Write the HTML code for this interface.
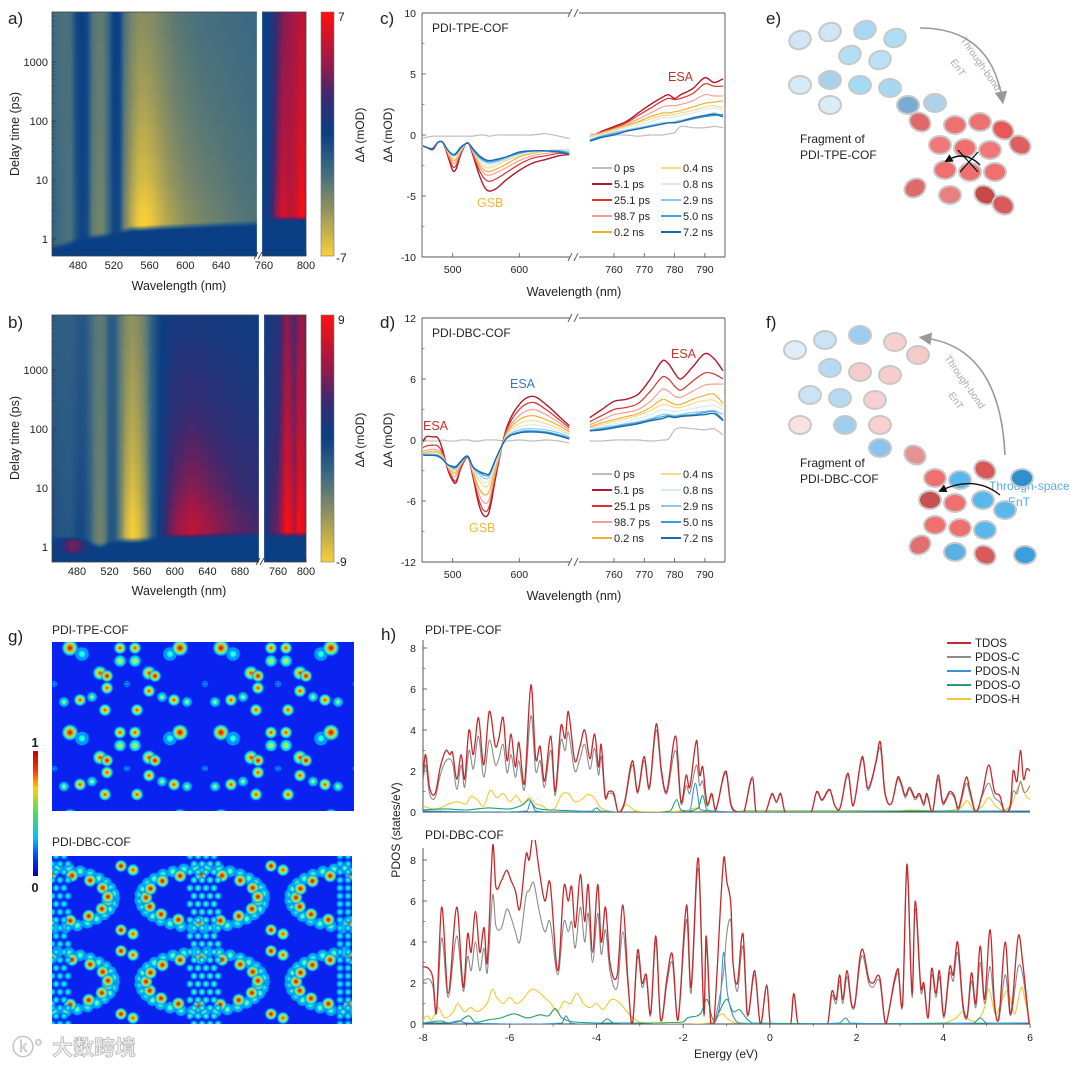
<!DOCTYPE html>
<html><head><meta charset="utf-8">
<style>
body{margin:0;background:#fff;}
#root{position:relative;width:1080px;height:1065px;overflow:hidden;background:#fff;font-family:"Liberation Sans",Arial,sans-serif;}
svg{position:absolute;left:0;top:0;}
canvas{position:absolute;}
.t{font-family:"Liberation Sans",Arial,sans-serif;fill:#222;}
</style></head>
<body>
<div id="root">
<canvas id="hmA" style="left:52px;top:12px" width="254" height="244"></canvas>
<canvas id="hmB" style="left:52px;top:315px" width="254" height="247"></canvas>
<canvas id="gTop" style="left:52px;top:642px" width="302" height="169"></canvas>
<canvas id="gBot" style="left:52px;top:856px" width="300" height="168"></canvas>
<svg id="main" width="1080" height="1065" xmlns="http://www.w3.org/2000/svg">
 <defs>
  <linearGradient id="cbarA" x1="0" y1="0" x2="0" y2="1">
   <stop offset="0" stop-color="#ff1010"/><stop offset="0.2" stop-color="#a01848"/><stop offset="0.35" stop-color="#3a2a70"/>
   <stop offset="0.5" stop-color="#0a3f85"/><stop offset="0.65" stop-color="#3d6a82"/><stop offset="0.8" stop-color="#8c9060"/><stop offset="1" stop-color="#f8d038"/>
  </linearGradient>
  <linearGradient id="jet" x1="0" y1="0" x2="0" y2="1">
   <stop offset="0" stop-color="#c00000"/><stop offset="0.15" stop-color="#ff3000"/><stop offset="0.3" stop-color="#ffd000"/>
   <stop offset="0.5" stop-color="#40e060"/><stop offset="0.7" stop-color="#00c0ff"/><stop offset="0.85" stop-color="#0040ff"/><stop offset="1" stop-color="#0000b0"/>
  </linearGradient>
  <marker id="arrG" markerWidth="8" markerHeight="8" refX="4" refY="4" orient="auto"><path d="M0,0 L8,4 L0,8 z" fill="#999"/></marker>
  <marker id="arrK" markerWidth="6" markerHeight="6" refX="3" refY="3" orient="auto"><path d="M0,0 L6,3 L0,6 z" fill="#111"/></marker>
  <clipPath id="clipHT"><rect x="423" y="600" width="608" height="212"/></clipPath>
  <clipPath id="clipHB"><rect x="423" y="840" width="608" height="184"/></clipPath>
  <clipPath id="clipC"><rect x="423" y="13" width="302" height="244"/></clipPath>
  <clipPath id="clipD"><rect x="423" y="318" width="302" height="244"/></clipPath>
 </defs>

 <text class="t" x="8" y="24" font-size="17">a)</text>
 <text class="t" x="8" y="328" font-size="17">b)</text>
 <text class="t" x="380" y="24" font-size="17">c)</text>
 <text class="t" x="380" y="328" font-size="17">d)</text>
 <text class="t" x="766" y="24" font-size="17">e)</text>
 <text class="t" x="766" y="328" font-size="17">f)</text>
 <text class="t" x="8" y="642" font-size="17">g)</text>
 <text class="t" x="381" y="640" font-size="17">h)</text>

 <rect x="52" y="12" width="254" height="244" fill="none" stroke="#444" stroke-width="0.8"/>
 <rect x="257" y="11" width="5" height="247" fill="#fff"/>
 <rect x="52" y="315" width="254" height="247" fill="none" stroke="#444" stroke-width="0.8"/>
 <rect x="259" y="314" width="5" height="250" fill="#fff"/>
 <rect x="321" y="12" width="13" height="244" fill="url(#cbarA)" stroke="#777" stroke-width="0.6"/>
 <rect x="321" y="315" width="13" height="247" fill="url(#cbarA)" stroke="#777" stroke-width="0.6"/>
 <text class="t" x="338" y="21" font-size="12">7</text>
 <text class="t" x="336" y="262" font-size="12">-7</text>
 <text class="t" x="338" y="324" font-size="12">9</text>
 <text class="t" x="336" y="566" font-size="12">-9</text>
 <text class="t" font-size="12" transform="translate(364,135) rotate(-90)" text-anchor="middle">ΔA (mOD)</text>
 <text class="t" font-size="12" transform="translate(364,440) rotate(-90)" text-anchor="middle">ΔA (mOD)</text>
 <text class="t" font-size="12.5" transform="translate(19,134) rotate(-90)" text-anchor="middle">Delay time (ps)</text>
 <text class="t" font-size="12.5" transform="translate(19,438) rotate(-90)" text-anchor="middle">Delay time (ps)</text>
 <text class="t" x="179" y="290" font-size="12.5" text-anchor="middle">Wavelength (nm)</text>
 <text class="t" x="179" y="595" font-size="12.5" text-anchor="middle">Wavelength (nm)</text>

 <text class="t" font-size="12" transform="translate(392,135) rotate(-90)" text-anchor="middle">ΔA (mOD)</text>
 <text class="t" font-size="12" transform="translate(392,440) rotate(-90)" text-anchor="middle">ΔA (mOD)</text>
 <text class="t" x="574" y="296" font-size="12.5" text-anchor="middle">Wavelength (nm)</text>
 <text class="t" x="574" y="600" font-size="12.5" text-anchor="middle">Wavelength (nm)</text>
 <text class="t" x="432" y="32" font-size="12">PDI-TPE-COF</text>
 <text class="t" x="432" y="337" font-size="12">PDI-DBC-COF</text>
 <text x="668" y="81" font-size="12.5" fill="#c8302c">ESA</text>
 <text x="477" y="207" font-size="12.5" fill="#f0b840">GSB</text>
 <text x="423" y="430" font-size="12.5" fill="#c8302c">ESA</text>
 <text x="510" y="388" font-size="12.5" fill="#3a78c0">ESA</text>
 <text x="469" y="532" font-size="12.5" fill="#f0b840">GSB</text>
 <text x="671" y="358" font-size="12.5" fill="#c8302c">ESA</text>

 <text class="t" x="800" y="143" font-size="12">Fragment of</text>
 <text class="t" x="800" y="159" font-size="12">PDI-TPE-COF</text>
 <text class="t" x="800" y="467" font-size="12">Fragment of</text>
 <text class="t" x="800" y="483" font-size="12">PDI-DBC-COF</text>
 <text x="960" y="40" font-size="10" fill="#aaa" transform="rotate(55 960 40)">Through-bond</text>
 <text x="950" y="62" font-size="10" fill="#aaa" transform="rotate(55 950 62)">EnT</text>
 <text x="944" y="358" font-size="10" fill="#aaa" transform="rotate(55 944 358)">Through-bond</text>
 <text x="948" y="395" font-size="10" fill="#aaa" transform="rotate(55 948 395)">EnT</text>
 <text x="989" y="490" font-size="12" fill="#5aaae0">Through-space</text>
 <text x="1008" y="506" font-size="12" fill="#5aaae0">EnT</text>

 <text class="t" x="52" y="634" font-size="12">PDI-TPE-COF</text>
 <text class="t" x="52" y="846" font-size="12">PDI-DBC-COF</text>
 <rect x="33" y="751" width="5" height="125" fill="url(#jet)"/>
 <text x="35" y="747" font-size="13" font-weight="bold" fill="#222" text-anchor="middle">1</text>
 <text x="35" y="892" font-size="13" font-weight="bold" fill="#222" text-anchor="middle">0</text>

 <text class="t" x="425" y="634" font-size="12">PDI-TPE-COF</text>
 <text class="t" x="425" y="839" font-size="12">PDI-DBC-COF</text>
 <text class="t" font-size="12" transform="translate(400,830) rotate(-90)" text-anchor="middle">PDOS (states/eV)</text>
 <text class="t" x="726" y="1058" font-size="12" text-anchor="middle">Energy (eV)</text>

 <text x="12" y="1055" font-size="22" fill="#e6e6e6" stroke="#bbb" stroke-width="0.6">ⓚ°</text>
 <text x="52" y="1055" font-size="21" font-weight="bold" fill="#eee" stroke="#aaa" stroke-width="0.6" style="font-family:'Liberation Sans','Noto Sans CJK SC',sans-serif">大数跨境</text>
</svg>
</div>

<script>
// ================= DATA =================
const hmW = [449,456,464,472,478,484,490,496,502,508,514,520,526,532,540,548,556,564,572,580,590,600,620,640,660,680,700,740,750,760,766,772,778,784,790,796,800];
const aEarly = [-1.5,-2,-2.3,-2.5,-1,-0.2,-0.5,-3,-3.5,-3.5,-2,-0.3,-0.5,-3.5,-5.5,-6.8,-7,-6.5,-5.8,-5.2,-4.7,-4.2,-3.6,-3.2,-2.8,-2.6,-2.5,0,0,0,1,4,6,5,5.5,7,6];
const aLate  = [-2,-2.3,-2.5,-2.3,-0.5,0,-0.3,-2.5,-3,-3,-2,0,0,-2.5,-3.5,-4,-4,-3.8,-3.5,-3.2,-2.8,-2.6,-2.3,-2.2,-2.1,-2,-2,0,0,0,0.5,2,3.5,4,4.5,5,5];
const aOnset = [0.72,0.75,0.8,0.88,0.95,1.0,1.05,1.1,1.12,1.15,1.2,1.22,1.3,1.4,1.5,1.5,1.52,1.55,1.58,1.6,1.62,1.65,1.7,1.75,1.8,1.85,1.9,2,2,2.1,2.1,2.2,2.2,2.2,2.2,2.2,2.2];
const aPre = [0,0,0,0,0,0,0,0,0,0,0,0,0,0,0,0,0,0,0,0,0,0,0,0,0,0,0,0,0,0,0,0,0,0,0,0,0];
const bEarly = [-1,-1.2,-1.5,-1.5,-1,-0.5,-1,-2,-4,-4.5,-4,-1.5,-1.5,-4,-7.5,-9,-8,-6,-2,0,3,5,6.5,5.5,4.5,3.5,3,1,3,4,6,9,8,6,9,8,7];
const bLate  = [-2,-2,-2,-2,-1.8,-1.5,-1.5,-2.5,-3.5,-3.8,-3.5,-1.8,-1.8,-3.5,-5,-5.5,-5,-4,-2,-0.5,0.3,0.6,0.7,0.6,0.5,0.4,0.3,0.5,1,1.5,3,5,4,3,5,5,4];
const bOnset = [1.4,1.4,1.4,1.4,1.4,1.35,1.3,1.2,1.1,1.05,1.1,1.2,1.25,1.3,1.3,1.3,1.3,1.35,1.4,1.5,1.5,1.5,1.52,1.55,1.6,1.6,1.62,1.6,1.6,1.6,1.6,1.6,1.6,1.6,1.6,1.6,1.6];
const bPre = [0,0,2,4,4,3,1,0,0,0,0,0,0,0,0,0,0,0,0,0,0,0,0,0,0,0,0,0,0,0,0,0,0,0,0,0,0];
const mixT = [1,2,5,10,30,100,300,1000,3000,10000];
const mixA = [0,0,0.15,0.3,0.45,0.6,0.72,0.82,0.92,1];
const mixB = [0,0,0.15,0.3,0.45,0.6,0.72,0.82,0.92,1];
const hmXTicksA = [480,520,560,600,640];
const hmXTicksB = [480,520,560,600,640,680];
const hmXTicksR = [760,800];
const hmYTicks = [1,10,100,1000];

const wlL = [452,460,470,478,485,492,500,505,512,520,524,530,540,548,555,565,580,600,620,640,660,675];
const wlR = [752,756,760,764,768,772,776,778,780,782,786,790,793,796];
const seriesNames = ['0 ps','5.1 ps','25.1 ps','98.7 ps','0.2 ns','0.4 ns','0.8 ns','2.9 ns','5.0 ns','7.2 ns'];
const seriesColors = ['#bdbdbd','#b2182b','#d8322c','#f2a096','#f0b030','#f8d98a','#d6ecf4','#8ec6ea','#38a0dc','#1a68b0'];
const cL0=[-0.3,-0.2,-0.1,-0.1,-0.1,-0.1,-0.1,-0.1,-0.1,-0.1,-0.1,-0.1,0,0,-0.1,0,0,0,0,0.1,-0.1,-0.3];
const cL1=[-0.8,-1.0,-1.2,-0.6,-0.6,-1.6,-2.9,-2.8,-1.6,-0.7,-0.7,-1.6,-3.3,-4.3,-4.6,-4.4,-3.7,-2.9,-2.3,-2.0,-1.7,-1.6];
const cL2=[-0.8,-1.0,-1.1,-0.6,-0.6,-1.5,-2.6,-2.5,-1.5,-0.7,-0.7,-1.5,-2.9,-3.6,-3.8,-3.6,-3.1,-2.4,-1.9,-1.7,-1.5,-1.5];
const cL3=[-0.8,-1.0,-1.1,-0.6,-0.6,-1.4,-2.3,-2.2,-1.4,-0.7,-0.7,-1.4,-2.6,-3.2,-3.3,-3.1,-2.7,-2.1,-1.7,-1.5,-1.4,-1.4];
const cL4=[-0.8,-1.0,-1.1,-0.6,-0.6,-1.3,-2.1,-2.0,-1.3,-0.7,-0.7,-1.3,-2.4,-2.9,-3.0,-2.8,-2.4,-1.8,-1.5,-1.3,-1.2,-1.3];
const cL5=[-0.8,-1.0,-1.1,-0.6,-0.6,-1.3,-1.9,-1.9,-1.2,-0.7,-0.7,-1.2,-2.2,-2.6,-2.7,-2.5,-2.1,-1.7,-1.4,-1.3,-1.2,-1.2];
const cL6=[-0.8,-1.0,-1.1,-0.6,-0.6,-1.2,-1.8,-1.7,-1.2,-0.7,-0.7,-1.2,-2.0,-2.4,-2.5,-2.3,-2.0,-1.6,-1.4,-1.3,-1.2,-1.3];
const cL7=[-0.8,-1.0,-1.1,-0.6,-0.6,-1.2,-1.7,-1.6,-1.1,-0.7,-0.7,-1.2,-1.9,-2.2,-2.3,-2.2,-1.9,-1.5,-1.3,-1.3,-1.3,-1.4];
const cL8=[-0.8,-1.0,-1.1,-0.6,-0.6,-1.2,-1.6,-1.6,-1.1,-0.7,-0.7,-1.2,-1.8,-2.1,-2.2,-2.1,-1.8,-1.5,-1.3,-1.3,-1.3,-1.5];
const cL9=[-0.8,-1.0,-1.1,-0.6,-0.6,-1.2,-1.6,-1.5,-1.0,-0.7,-0.7,-1.1,-1.7,-2.0,-2.1,-2.0,-1.8,-1.4,-1.3,-1.3,-1.4,-1.6];
const cR0=[0.1,0,0,0,-0.1,0,0,0.1,0.2,0.7,0.6,0.6,0.7,0.6];
const cR1=[-0.2,0.3,0.7,1.1,1.8,2.5,3.1,3.3,3.0,3.3,3.8,4.7,4.3,4.6];
const cR2=[-0.1,0.2,0.6,1.0,1.6,2.2,2.8,3.0,2.9,3.0,3.4,4.2,4.0,4.0];
const cR3=[-0.1,0.2,0.5,0.9,1.3,1.8,2.3,2.4,2.4,2.5,2.8,3.3,3.2,3.2];
const cR4=[-0.1,0.2,0.5,0.8,1.1,1.5,1.8,1.8,1.9,2.0,2.3,2.6,2.7,2.8];
const cR5=[-0.1,0.1,0.4,0.7,1.0,1.3,1.6,1.6,1.7,1.8,2.0,2.3,2.4,2.2];
const cR6=[-0.2,0,0.3,0.6,0.8,1.1,1.4,1.4,1.5,1.6,1.8,2.1,2.2,2.0];
const cR7=[-0.4,-0.1,0.2,0.4,0.6,0.8,1.0,1.0,1.1,1.2,1.4,1.6,1.8,1.6];
const cR8=[-0.4,-0.1,0.1,0.3,0.5,0.7,0.9,1.0,1.0,1.1,1.3,1.5,1.6,1.7];
const cR9=[-0.5,-0.2,0.0,0.3,0.5,0.7,0.9,1.0,1.0,1.1,1.4,1.6,1.7,1.5];
const dL0=[-0.2,-0.1,-0.1,-0.1,0,-0.1,-0.1,-0.1,0,0,0,-0.1,-0.1,0,0,0,-0.1,0,-0.1,0,-0.1,-0.3];
const dL1=[-0.5,0.3,0.3,0.2,-1.0,-2.8,-4.0,-4.2,-2.8,-1.8,-1.8,-3.5,-6.5,-7.5,-7.0,-3.5,1.0,3.5,4.3,3.5,2.3,1.4];
const dL2=[-0.9,-0.6,-0.5,-0.6,-1.3,-2.7,-3.8,-4.0,-2.7,-1.8,-1.8,-3.4,-6.0,-7.0,-6.5,-3.2,0.8,3.0,3.7,3.0,2.0,1.2];
const dL3=[-1.2,-1.0,-0.9,-1.0,-1.5,-2.6,-3.5,-3.5,-2.5,-1.7,-1.7,-3.2,-5.4,-6.2,-5.8,-2.9,0.6,2.4,3.0,2.5,1.7,1.0];
const dL4=[-1.3,-1.2,-1.1,-1.2,-1.6,-2.5,-3.2,-3.2,-2.4,-1.7,-1.7,-3.0,-4.8,-5.4,-5.0,-2.6,0.5,2.0,2.4,2.0,1.4,0.8];
const dL5=[-1.3,-1.3,-1.2,-1.3,-1.7,-2.5,-3.0,-3.0,-2.3,-1.7,-1.7,-2.9,-4.0,-4.6,-4.3,-2.3,0.4,1.6,1.9,1.6,1.1,0.6];
const dL6=[-1.4,-1.4,-1.3,-1.4,-1.8,-2.5,-2.9,-2.9,-2.3,-1.7,-1.7,-2.8,-3.7,-4.2,-3.9,-2.1,0.3,1.3,1.5,1.3,0.9,0.5];
const dL7=[-1.4,-1.4,-1.4,-1.5,-1.8,-2.4,-2.8,-2.8,-2.2,-1.7,-1.7,-2.7,-3.4,-3.8,-3.6,-1.9,0.2,1.0,1.1,1.0,0.7,0.3];
const dL8=[-1.4,-1.5,-1.5,-1.5,-1.9,-2.4,-2.7,-2.7,-2.2,-1.7,-1.7,-2.6,-3.2,-3.5,-3.4,-1.8,0.1,0.8,0.9,0.8,0.5,0.2];
const dL9=[-1.4,-1.5,-1.5,-1.6,-1.9,-2.4,-2.6,-2.6,-2.1,-1.6,-1.7,-2.6,-3.1,-3.3,-3.3,-1.8,0.1,0.7,0.8,0.7,0.4,0.1];
const dR0=[-0.1,-0.1,0,0,0,-0.1,0,0.1,1.0,1.2,1.1,1.0,1.1,0.5];
const dR1=[2.2,3.0,3.8,4.0,4.5,6.0,7.8,7.5,6.6,6.0,7.2,8.5,8.0,6.8];
const dR2=[1.8,2.4,3.0,3.2,3.6,4.8,6.2,6.0,5.3,4.9,5.8,6.6,6.5,6.0];
const dR3=[1.5,2.0,2.5,2.7,3.0,3.8,5.0,4.8,4.3,4.2,4.8,5.4,5.5,5.5];
const dR4=[1.3,1.7,2.0,2.3,2.6,3.2,4.0,3.8,3.5,3.5,4.0,4.4,4.5,3.6];
const dR5=[1.2,1.5,1.8,2.1,2.4,2.9,3.5,3.4,3.2,3.2,3.6,3.9,3.9,3.3];
const dR6=[1.1,1.3,1.6,1.8,2.1,2.5,3.0,2.9,2.8,2.9,3.1,3.3,3.4,3.0];
const dR7=[1.0,1.2,1.4,1.6,1.8,2.1,2.5,2.5,2.4,2.5,2.7,2.8,2.9,2.5];
const dR8=[0.9,1.1,1.3,1.5,1.7,2.0,2.3,2.4,2.3,2.4,2.5,2.7,2.8,2.0];
const dR9=[0.9,1.0,1.2,1.4,1.6,1.9,2.1,2.3,2.2,2.3,2.4,2.5,2.6,1.9];
const cLeft=[cL0,cL1,cL2,cL3,cL4,cL5,cL6,cL7,cL8,cL9];
const cRight=[cR0,cR1,cR2,cR3,cR4,cR5,cR6,cR7,cR8,cR9];
const dLeft=[dL0,dL1,dL2,dL3,dL4,dL5,dL6,dL7,dL8,dL9];
const dRight=[dR0,dR1,dR2,dR3,dR4,dR5,dR6,dR7,dR8,dR9];
const cYTicks=[10,5,0,-5,-10];
const dYTicks=[12,6,0,-6,-12];
const specXTicksL=[500,600];
const specXTicksR=[760,770,780,790];

const tdosTop=[[-8,1.8],[-7.94,2.8],[-7.85,1.2],[-7.72,0.9],[-7.6,2.2],[-7.47,3.0],[-7.38,2.8],[-7.32,2.9],[-7.22,1.6],[-7.12,2.8],[-7.04,1.6],[-6.94,4.0],[-6.84,2.8],[-6.72,4.6],[-6.6,2.3],[-6.47,4.9],[-6.33,3.2],[-6.25,3.6],[-6.15,4.6],[-6.06,2.5],[-5.97,3.8],[-5.87,2.2],[-5.79,3.4],[-5.66,1.4],[-5.51,6.2],[-5.4,2.6],[-5.3,3.2],[-5.2,1.5],[-5.05,3.7],[-4.95,1.0],[-4.82,4.2],[-4.72,3.6],[-4.65,4.9],[-4.5,2.5],[-4.38,3.2],[-4.27,4.0],[-4.15,2.6],[-4.04,3.8],[-3.95,2.2],[-3.89,3.3],[-3.8,0.8],[-3.72,1.0],[-3.6,0.9],[-3.5,0],[-3.35,0.5],[-3.17,2.5],[-3.05,1.0],[-2.9,2.7],[-2.78,1.2],[-2.62,4.3],[-2.5,2.0],[-2.38,1.0],[-2.17,3.7],[-2.05,0.5],[-1.93,1.8],[-1.85,1.2],[-1.69,3.5],[-1.62,1.8],[-1.55,2.2],[-1.45,0.4],[-1.34,0.9],[-1.25,0.1],[-1.02,2.0],[-0.9,0.4],[-0.75,0],[-0.6,0],[-0.4,1.7],[-0.32,0],[-0.1,0],[0.05,0.9],[0.15,0.5],[0.25,0.9],[0.35,0],[0.95,0],[1.08,1.0],[1.2,0.6],[1.38,1.1],[1.5,0.3],[1.62,0.2],[1.8,1.9],[1.92,0.3],[2.13,2.7],[2.25,1.2],[2.35,1.6],[2.45,2.5],[2.55,3.4],[2.65,1.0],[2.8,0.4],[2.95,1.7],[3.03,1.4],[3.12,0.8],[3.22,1.2],[3.35,0.7],[3.45,0.9],[3.55,0.4],[3.62,0.9],[3.75,0],[3.88,1.8],[3.98,0.5],[4.05,0.6],[4.15,1.0],[4.25,0.8],[4.35,0.2],[4.53,1.7],[4.62,1.0],[4.75,0],[4.9,0.9],[5.05,2.3],[5.18,1.0],[5.3,0.8],[5.42,0],[5.55,0.4],[5.61,2.0],[5.7,1.5],[5.78,3.0],[5.85,1.6],[5.92,2.1],[6.0,2.0]];
const pdosCTop=[[-8,1.5],[-7.94,2.3],[-7.85,0.9],[-7.72,0.7],[-7.6,1.8],[-7.47,2.5],[-7.32,2.4],[-7.22,1.1],[-7.12,2.3],[-7.04,1.2],[-6.94,3.0],[-6.84,2.1],[-6.72,3.7],[-6.6,1.7],[-6.47,3.5],[-6.33,2.3],[-6.25,2.6],[-6.15,3.3],[-6.06,1.9],[-5.97,2.8],[-5.87,1.7],[-5.79,2.5],[-5.66,1.1],[-5.51,4.7],[-5.4,2.0],[-5.3,2.5],[-5.2,1.2],[-5.05,3.0],[-4.95,0.8],[-4.82,3.5],[-4.72,3.0],[-4.65,3.9],[-4.5,2.0],[-4.38,2.6],[-4.27,3.3],[-4.15,2.1],[-4.04,3.1],[-3.95,1.8],[-3.89,2.7],[-3.8,0.7],[-3.72,0.9],[-3.6,0.8],[-3.5,0],[-3.35,0.4],[-3.17,2.3],[-3.05,0.9],[-2.9,2.5],[-2.78,1.1],[-2.62,4.0],[-2.5,1.8],[-2.38,0.9],[-2.17,3.0],[-2.05,0.4],[-1.93,1.3],[-1.85,0.9],[-1.69,2.3],[-1.62,1.3],[-1.55,1.5],[-1.45,0.3],[-1.34,0.8],[-1.25,0.1],[-1.02,1.9],[-0.9,0.3],[-0.75,0],[-0.6,0],[-0.4,1.6],[-0.32,0],[-0.1,0],[0.05,0.85],[0.15,0.45],[0.25,0.85],[0.35,0],[0.95,0],[1.08,0.95],[1.2,0.55],[1.38,1.05],[1.5,0.3],[1.62,0.2],[1.8,1.8],[1.92,0.3],[2.13,2.6],[2.25,1.1],[2.35,1.5],[2.45,2.4],[2.55,3.1],[2.65,0.9],[2.8,0.4],[2.95,1.6],[3.03,1.3],[3.12,0.7],[3.22,1.1],[3.35,0.6],[3.45,0.8],[3.55,0.3],[3.62,0.8],[3.75,0],[3.88,1.6],[3.98,0.4],[4.05,0.5],[4.15,0.9],[4.25,0.7],[4.35,0.1],[4.53,1.4],[4.62,0.8],[4.75,0],[4.9,0.8],[5.05,1.4],[5.18,0.7],[5.3,0.5],[5.42,0],[5.55,0.2],[5.61,1.0],[5.7,0.9],[5.78,1.5],[5.85,1.0],[5.92,1.0],[6.0,1.3]];
const pdosHTop=[[-8,0.3],[-7.8,0.15],[-7.6,0.2],[-7.4,0.4],[-7.2,0.5],[-7.0,0.4],[-6.9,0.75],[-6.75,0.6],[-6.6,0.3],[-6.45,1.05],[-6.3,0.7],[-6.15,0.9],[-6.0,0.5],[-5.85,0.8],[-5.7,0.4],[-5.55,0.7],[-5.4,0.4],[-5.25,0.3],[-5.1,0.1],[-4.95,0.2],[-4.8,0.85],[-4.65,0.9],[-4.5,0.5],[-4.35,0.6],[-4.2,0.85],[-4.05,0.7],[-3.9,0.2],[-3.7,0.05],[-3.5,0],[-3.3,0.35],[-3.1,0.05],[-2,0.05],[-1.7,0.2],[-1.5,0.05],[0,0],[3.0,0.05],[3.2,0.1],[4.0,0.05],[4.4,0.2],[4.55,0.55],[4.7,0.1],[4.9,0.3],[5.05,0.7],[5.2,0.3],[5.35,0.1],[5.5,0.2],[5.6,0.5],[5.78,1.4],[5.9,0.8],[6,0.6]];
const pdosNTop=[[-8,0.05],[-5.6,0.05],[-5.52,0.5],[-5.4,0.05],[-4.1,0.05],[-4.0,0.2],[-3.9,0.05],[-1.85,0.05],[-1.72,1.4],[-1.6,0.1],[6,0.05]];
const pdosOTop=[[-8,0.1],[-7.5,0.15],[-7,0.1],[-6.5,0.2],[-6,0.15],[-5.7,0.35],[-5.55,0.6],[-5.4,0.2],[-5,0.1],[-3.5,0],[-2.3,0.05],[-2.15,0.6],[-2.05,0.1],[-1.65,0.2],[-1.55,0.8],[-1.45,0.1],[-0.5,0.05],[6,0.05]];
const tdosBot=[[-8,2.8],[-7.87,2.7],[-7.77,2.2],[-7.69,0.6],[-7.57,5.7],[-7.42,1.5],[-7.22,5.7],[-7.07,1.8],[-6.97,4.4],[-6.89,3.5],[-6.79,5.5],[-6.69,3.5],[-6.59,4.7],[-6.52,3.0],[-6.39,8.7],[-6.32,6.7],[-6.19,7.0],[-6.07,7.5],[-5.97,7.0],[-5.87,6.5],[-5.77,5.6],[-5.62,8.3],[-5.55,8.0],[-5.45,9.3],[-5.32,7.5],[-5.19,6.0],[-5.07,6.9],[-4.89,2.6],[-4.75,6.7],[-4.65,6.0],[-4.57,6.7],[-4.49,4.7],[-4.37,7.3],[-4.27,5.0],[-4.19,6.8],[-4.09,3.5],[-3.97,6.8],[-3.89,4.0],[-3.79,5.7],[-3.69,3.0],[-3.52,2.4],[-3.39,5.8],[-3.27,2.0],[-3.17,0],[-3.05,3.6],[-2.95,2.0],[-2.85,2.4],[-2.75,0.5],[-2.63,4.3],[-2.52,0.2],[-2.37,2.3],[-2.25,3.4],[-2.12,0.2],[-1.92,5.8],[-1.82,1.8],[-1.65,8.1],[-1.52,0.5],[-1.47,4.3],[-1.37,0.2],[-1.29,0],[-1.07,8.0],[-0.99,6.9],[-0.9,5.8],[-0.85,3.0],[-0.75,2.0],[-0.62,4.4],[-0.52,0.5],[-0.35,2.6],[-0.22,0],[-0.07,1.9],[0.01,0],[0.48,0],[0.55,1.5],[0.65,0],[1.33,0],[1.43,1.6],[1.53,1.2],[1.61,2.4],[1.68,1.2],[1.78,2.6],[1.88,1.0],[1.96,1.0],[2.08,3.3],[2.15,3.6],[2.28,2.2],[2.38,2.0],[2.53,2.3],[2.63,0.5],[2.68,0],[2.95,2.7],[3.06,1.0],[3.16,7.8],[3.28,1.5],[3.35,6.0],[3.48,1.8],[3.55,2.0],[3.65,0.3],[3.73,2.7],[3.83,1.5],[3.91,2.6],[4.01,0.4],[4.15,2.8],[4.23,2.4],[4.33,4.0],[4.45,1.0],[4.55,0.4],[4.65,2.5],[4.75,1.0],[4.85,3.8],[4.95,1.2],[5.08,4.6],[5.18,1.0],[5.28,0.3],[5.43,4.0],[5.55,0.5],[5.73,4.3],[5.83,3.0],[5.98,0]];
const pdosCBot=[[-8,2.1],[-7.87,2.2],[-7.77,1.8],[-7.69,0.5],[-7.57,4.2],[-7.42,1.3],[-7.22,4.3],[-7.07,1.6],[-6.97,3.3],[-6.89,2.6],[-6.79,4.0],[-6.69,2.6],[-6.59,3.7],[-6.52,2.5],[-6.39,6.3],[-6.32,4.8],[-6.19,4.7],[-6.07,5.6],[-5.97,5.2],[-5.87,4.5],[-5.77,4.0],[-5.62,6.3],[-5.55,6.5],[-5.45,6.9],[-5.32,5.5],[-5.19,4.5],[-5.07,5.0],[-4.89,2.4],[-4.75,5.0],[-4.65,4.5],[-4.57,5.0],[-4.49,3.7],[-4.37,5.7],[-4.27,4.0],[-4.19,5.4],[-4.09,3.0],[-3.97,5.4],[-3.89,3.4],[-3.79,4.6],[-3.69,2.6],[-3.52,1.8],[-3.39,4.5],[-3.27,1.8],[-3.17,0],[-3.05,3.3],[-2.95,1.8],[-2.85,2.2],[-2.75,0.4],[-2.63,4.0],[-2.52,0.2],[-2.37,2.0],[-2.25,3.0],[-2.12,0.2],[-1.92,5.1],[-1.82,1.5],[-1.65,7.6],[-1.52,0.4],[-1.47,3.8],[-1.37,0.2],[-1.29,0],[-1.07,2.5],[-0.99,4.5],[-0.9,5.0],[-0.85,3.0],[-0.75,1.6],[-0.62,3.8],[-0.52,0.4],[-0.35,2.4],[-0.22,0],[-0.07,1.8],[0.01,0],[0.48,0],[0.55,1.4],[0.65,0],[1.33,0],[1.43,1.4],[1.53,1.0],[1.61,2.1],[1.68,1.0],[1.78,2.3],[1.88,0.9],[1.96,0.9],[2.08,3.0],[2.15,3.3],[2.28,2.0],[2.38,1.8],[2.53,2.1],[2.63,0.4],[2.68,0],[2.95,2.5],[3.06,0.9],[3.16,7.5],[3.28,1.3],[3.35,5.6],[3.48,1.6],[3.55,1.8],[3.65,0.3],[3.73,2.4],[3.83,1.3],[3.91,2.3],[4.01,0.3],[4.15,2.5],[4.23,2.1],[4.33,3.5],[4.45,0.8],[4.55,0.3],[4.65,2.1],[4.75,0.8],[4.85,3.0],[4.95,1.0],[5.08,2.8],[5.18,0.8],[5.28,0.2],[5.43,2.4],[5.55,0.4],[5.73,2.8],[5.83,2.4],[5.98,0]];
const pdosHBot=[[-8,0.2],[-7.9,0.4],[-7.8,0.2],[-7.65,0.8],[-7.5,0.3],[-7.3,0.6],[-7.2,1.0],[-7.05,0.6],[-6.9,0.8],[-6.75,0.6],[-6.6,0.8],[-6.5,1.1],[-6.4,1.7],[-6.3,1.3],[-6.15,1.0],[-6.0,1.3],[-5.85,1.0],[-5.7,1.2],[-5.55,1.6],[-5.45,1.7],[-5.3,1.5],[-5.2,1.3],[-5.05,1.0],[-4.9,0.6],[-4.75,1.1],[-4.6,1.0],[-4.45,1.5],[-4.3,1.0],[-4.15,0.8],[-4.0,1.0],[-3.85,0.7],[-3.65,1.2],[-3.45,1.0],[-3.3,0.6],[-3.1,0.2],[-2.9,0.05],[-1.4,0.05],[-1.1,0.5],[-1.0,0.3],[-0.8,0.05],[4.0,0.05],[4.3,0.3],[4.45,0.6],[4.6,0.2],[4.8,0.2],[4.95,0.8],[5.05,1.7],[5.2,0.5],[5.45,1.6],[5.55,1.2],[5.65,0.5],[5.8,1.8],[5.9,1.0],[6,0]];
const pdosNBot=[[-8,0.05],[-7.6,0.15],[-7.4,0.05],[-7.2,0.15],[-7.0,0.05],[-4.8,0.05],[-4.7,0.4],[-4.6,0.05],[-3.9,0.05],[-3.75,0.25],[-3.6,0.05],[-1.3,0.05],[-1.15,1.0],[-1.07,3.5],[-0.98,1.5],[-0.85,0.4],[-0.7,0.05],[1.6,0.05],[1.75,0.3],[1.85,0.05],[4.7,0.05],[4.85,0.3],[5.0,0.05],[6,0.05]];
const pdosOBot=[[-8,0.05],[-7.2,0.1],[-6.95,0.4],[-6.8,0.1],[-6.5,0.2],[-6.2,0.3],[-5.9,0.5],[-5.6,0.3],[-5.3,0.45],[-5.1,0.4],[-4.95,0.75],[-4.8,0.3],[-4.5,0.1],[-3.5,0.05],[-2.0,0.1],[-1.9,0.3],[-1.6,0.5],[-1.45,1.2],[-1.3,0.2],[-1.0,1.2],[-0.85,0.6],[-0.7,0.7],[-0.55,0.3],[-0.4,0.05],[6,0.05]];
const pdosNames=['TDOS','PDOS-C','PDOS-N','PDOS-O','PDOS-H'];
const pdosColors=['#c8282c','#8c8c8c','#3a92d8','#20a070','#f0c830'];
const hXTicks=[-8,-6,-4,-2,0,2,4,6];
const hYTicks=[0,2,4,6,8];

// ================= HELPERS =================
const NS='http://www.w3.org/2000/svg';
const svg=document.getElementById('main');
function el(tag,parent){const e=document.createElementNS(NS,tag);(parent||svg).appendChild(e);return e;}
function smooth(p){
  if(!p.length) return '';
  let d='M'+p[0][0].toFixed(1)+','+p[0][1].toFixed(1);
  for(let i=0;i<p.length-1;i++){
    const p0=p[i-1]||p[i],p1=p[i],p2=p[i+1],p3=p[i+2]||p2;
    const dx=p2[0]-p1[0];
    let t1=(p2[1]-p0[1])/Math.max(1e-6,p2[0]-p0[0]);
    let t2=(p3[1]-p1[1])/Math.max(1e-6,p3[0]-p1[0]);
    const c1x=p1[0]+dx/3,c1y=p1[1]+t1*dx/3;
    const c2x=p2[0]-dx/3,c2y=p2[1]-t2*dx/3;
    d+=' C'+c1x.toFixed(1)+','+c1y.toFixed(1)+' '+c2x.toFixed(1)+','+c2y.toFixed(1)+' '+p2[0].toFixed(1)+','+p2[1].toFixed(1);
  }
  return d;
}
function interp(xs,ys,x){
  if(x<=xs[0]) return ys[0];
  for(let i=1;i<xs.length;i++){ if(x<=xs[i]){const f=(x-xs[i-1])/(xs[i]-xs[i-1]);return ys[i-1]+f*(ys[i]-ys[i-1]);} }
  return ys[ys.length-1];
}
function line(x1,y1,x2,y2,c,w,parent){const l=el('line',parent);l.setAttribute('x1',x1);l.setAttribute('y1',y1);l.setAttribute('x2',x2);l.setAttribute('y2',y2);l.setAttribute('stroke',c);l.setAttribute('stroke-width',w);return l;}
function txt(x,y,s,size,anchor,parent){const t=el('text',parent);t.setAttribute('x',x);t.setAttribute('y',y);t.setAttribute('font-size',size);t.setAttribute('text-anchor',anchor||'middle');t.setAttribute('fill','#222');t.setAttribute('font-family','Liberation Sans, Arial, sans-serif');t.textContent=s;return t;}

// ================= HEATMAPS =================
const cmStops=[[-1,[248,208,56]],[-0.6,[140,144,96]],[-0.3,[61,106,130]],[0,[10,63,133]],[0.3,[58,42,112]],[0.6,[160,24,72]],[1,[255,16,16]]];
function cmap(v){
  v=Math.max(-1,Math.min(1,v));
  for(let i=1;i<cmStops.length;i++){ if(v<=cmStops[i][0]){const a=cmStops[i-1],b=cmStops[i];const f=(v-a[0])/(b[0]-a[0]);return [0,1,2].map(k=>Math.round(a[1][k]+f*(b[1][k]-a[1][k])));} }
  return cmStops[cmStops.length-1][1];
}
function drawHeat(id,cfg){
  const cv=document.getElementById(id),ctx=cv.getContext('2d');
  const W=cv.width,H=cv.height,img=ctx.createImageData(W,H);
  for(let x=0;x<W;x++){
    const X=cfg.left+x+0.5;let wl=null;
    if(X<cfg.breakL) wl=480+(X-cfg.x480)/cfg.sL;
    else if(X>cfg.breakR) wl=760+(X-cfg.x760)/cfg.sR;
    for(let y=0;y<H;y++){
      const idx=(y*W+x)*4;
      if(wl===null){img.data[idx]=255;img.data[idx+1]=255;img.data[idx+2]=255;img.data[idx+3]=255;continue;}
      const Y=cfg.top+y+0.5;const lt=(cfg.y1-Y)/59;const t=Math.pow(10,lt);
      const on=interp(hmW,cfg.onset,wl);
      const m=interp(mixT,cfg.mix,Math.max(1,t));
      let v=interp(hmW,cfg.early,wl)*(1-m)+interp(hmW,cfg.late,wl)*m;
      const d=(lt-Math.log10(on))/0.05;
      const s=d<=-1?0:d>=1?1:(d+1)/2;
      let pre=0; if(t>0.7&&t<on){pre=interp(hmW,cfg.pre,wl)*Math.min(1,(Math.log10(t)+0.155)/0.1);}
      v=v*s+pre*(1-s);
      const c=cmap(v/cfg.max);
      img.data[idx]=c[0];img.data[idx+1]=c[1];img.data[idx+2]=c[2];img.data[idx+3]=255;
    }
  }
  ctx.putImageData(img,0,0);
}
drawHeat('hmA',{left:52,top:12,x480:78,sL:0.894,breakL:257,breakR:262,x760:264,sR:1.05,y1:239,early:aEarly,late:aLate,onset:aOnset,pre:aPre,mix:mixA,max:7});
drawHeat('hmB',{left:52,top:315,x480:77,sL:0.815,breakL:259,breakR:264,x760:278,sR:0.7,y1:547,early:bEarly,late:bLate,onset:bOnset,pre:bPre,mix:mixB,max:9});

function heatAxes(name,top,bottom,y1,x480,sL,x760,sR,ticksL,breakX){
  const g=el('g');
  
  
  ticksL.forEach(w=>{const x=x480+(w-480)*sL;line(x,bottom,x,bottom-4,'#333',0.8,g);const t=txt(x,bottom+13,String(w),11,'middle',g);
    
    });
  hmXTicksR.forEach(w=>{const x=x760+(w-760)*sR;line(x,bottom,x,bottom-4,'#333',0.8,g);const t=txt(x,bottom+13,String(w),11,'middle',g);
    
    });
  hmYTicks.forEach(v=>{const y=y1-Math.log10(v)*59;line(52,y,56,y,'#333',0.8,g);const t=txt(48,y+4,String(v),11,'end',g);
    
    });
  for(let dec=-1;dec<4;dec++){for(let k=2;k<10;k++){const y=y1-(dec+Math.log10(k))*59;if(y>top&&y<bottom)line(52,y,54.5,y,'#333',0.6,g);}}
  line(breakX-3,bottom+3,breakX+1,bottom-4,'#333',0.8,g);line(breakX+1,bottom+3,breakX+5,bottom-4,'#333',0.8,g);
}
heatAxes('heatmap-a',12,256,239,78,0.894,264,1.05,hmXTicksA,257);
heatAxes('heatmap-b',315,562,547,77,0.815,278,0.7,hmXTicksB,259);

// ================= SPECTRA c/d =================
const xL=w=>452.7+(w-500)*0.666;
const xR=w=>614+(w-760)*3.03;
function specPanel(name,top,bottom,y0,k,ticks,left,right,legY){
  const g=el('g');
  
  
  const Y=v=>y0-v*k;
  line(422,top,422,bottom,'#555',0.9,g);line(725,top,725,bottom,'#555',0.9,g);
  line(422,top,570,top,'#555',0.9,g);line(579,top,725,top,'#555',0.9,g);
  line(422,bottom,570,bottom,'#555',0.9,g);line(579,bottom,725,bottom,'#555',0.9,g);
  [top,bottom].forEach(yy=>{line(568,yy+4,572,yy-4,'#555',0.9,g);line(574,yy+4,578,yy-4,'#555',0.9,g);});
  ticks.forEach(v=>{const y=Y(v);line(422,y,426,y,'#555',0.8,g);const t=txt(416,y+4,String(v),10.5,'end',g);
    
    
    if(v!==ticks[ticks.length-1]){const ym=Y(v-(ticks[0]-ticks[1])/2);line(422,ym,424.5,ym,'#555',0.6,g);}});
  specXTicksL.forEach(w=>{const x=xL(w);line(x,bottom,x,bottom-4,'#555',0.8,g);const t=txt(x,bottom+16,String(w),10.5,'middle',g);
    
    });
  specXTicksR.forEach(w=>{const x=xR(w);line(x,bottom,x,bottom-4,'#555',0.8,g);const t=txt(x,bottom+16,String(w),10.5,'middle',g);
    
    });
  const cg=el('g',g);cg.setAttribute('clip-path','url(#'+(name==='c'?'clipC':'clipD')+')');
  for(let s=0;s<seriesNames.length;s++){
    const pL=el('path',cg);pL.setAttribute('d',smooth(wlL.map((w,i)=>[xL(w),Y(left[s][i])])));
    pL.setAttribute('fill','none');pL.setAttribute('stroke',seriesColors[s]);pL.setAttribute('stroke-width',s===9||s===1?1.4:1.2);
    
    
    const pR=el('path',cg);pR.setAttribute('d',smooth(wlR.map((w,i)=>[xR(w),Y(right[s][i])])));
    pR.setAttribute('fill','none');pR.setAttribute('stroke',seriesColors[s]);pR.setAttribute('stroke-width',s===9||s===1?1.4:1.2);
    
    
  }
  const lg=el('g',g);
  
  
  for(let s=0;s<seriesNames.length;s++){
    const col=s<5?0:1,row=s%5;
    const lx=col===0?592:661,ly=legY+row*16;
    line(lx,ly,lx+20,ly,seriesColors[s],2,lg);
    const t=txt(lx+22,ly+4,seriesNames[s],11,'start',lg);
    
    
  }
}
specPanel('c',13,257,135,12.2,cYTicks,cLeft,cRight,168);
specPanel('d',318,562,440,10.17,dYTicks,dLeft,dRight,474);

// ================= PDOS h =================
const hx=E=>423+(E+8)*43.36;
function pdosPanel(name,base,top,clip,sets,bottomAxis){
  const g=el('g');
  
  
  const Y=v=>base-v*20.5;
  line(423,top,423,base,'#444',0.9,g);
  hYTicks.forEach(v=>{const y=Y(v);line(423,y,427,y,'#444',0.8,g);const t=txt(416,y+4,String(v),10.5,'end',g);
    
    
    if(v<8){const ym=Y(v+1);line(423,ym,425.5,ym,'#444',0.6,g);}});
  if(bottomAxis){
    line(423,base,1030,base,'#444',0.9,g);
    hXTicks.forEach(E=>{const x=hx(E);line(x,base,x,base+4,'#444',0.8,g);const t=txt(x,base+17,String(E),10.5,'middle',g);
      
      
      if(E<6){line(hx(E+1),base,hx(E+1),base+2.5,'#444',0.6,g);}});
  } else { line(423,base,1030,base,'#2a4a5a',1,g); }
  const cg=el('g',g);cg.setAttribute('clip-path','url(#'+clip+')');
  const order=[4,3,2,1,0];
  order.forEach(k=>{const p=el('path',cg);p.setAttribute('d',smooth(sets[k].map(q=>[hx(q[0]),Y(q[1])])));
    p.setAttribute('fill','none');p.setAttribute('stroke',pdosColors[k]);p.setAttribute('stroke-width',k===0?1.3:1.1);
    
    });
}
pdosPanel('h-top',812,640,'clipHT',[tdosTop,pdosCTop,pdosNTop,pdosOTop,pdosHTop],false);
pdosPanel('h-bottom',1024,848,'clipHB',[tdosBot,pdosCBot,pdosNBot,pdosOBot,pdosHBot],true);
(function(){
  const lg=el('g');
  
  
  pdosNames.forEach((n,i)=>{const y=643+i*14;line(947,y,971,y,pdosColors[i],2,lg);const t=txt(975,y+4,n,11.5,'start',lg);
    
    });
})();

// ================= ELF MAPS g (decorative) =================
function jet(v){v=Math.max(0,Math.min(1,v));const r=Math.max(0,Math.min(1,1.5-Math.abs(4*v-3))),g=Math.max(0,Math.min(1,1.5-Math.abs(4*v-2))),b=Math.max(0,Math.min(1,1.5-Math.abs(4*v-1)));return 'rgb('+Math.round(r*255)+','+Math.round(g*255)+','+Math.round(b*255)+')';}
function spot(ctx,x,y,r,s){
  const gr=ctx.createRadialGradient(x,y,0,x,y,r*2.2);
  gr.addColorStop(0,jet(s*0.98));gr.addColorStop(0.3,jet(s*0.75));gr.addColorStop(0.55,jet(s*0.5));gr.addColorStop(0.8,jet(0.3));gr.addColorStop(1,'rgba(0,40,240,0)');
  ctx.fillStyle=gr;ctx.beginPath();ctx.arc(x,y,r*2.2,0,Math.PI*2);ctx.fill();
}
(function(){
  const ctx=document.getElementById('gTop').getContext('2d');
  ctx.fillStyle='#0a22f0';ctx.fillRect(0,0,302,169);
  const motif=[[18,6,4,1],[30,12,3.5,0.5],[68,6,3,0.9],[83,6,3,0.9],[68,19,3,0.7],[83,19,3,0.7],[48,31,3.5,0.9],[55,34,3,1],[97,31,3.5,0.9],[103,34,3,1],[118,12,3.5,0.5],[128,6,4,1],[28,58,3,0.9],[12,60,2.5,0.6],[40,55,2.5,0.6],[55,46,3,0.9],[97,49,3,0.9],[122,58,3,0.9],[110,55,2.5,0.6],[135,60,2.5,0.6],[53,68,3,0.9],[85,68,3,0.9],[75,42,1.5,0.35],[2,42,1.5,0.35]];
  for(let i=-1;i<3;i++)for(let j=-1;j<3;j++)motif.forEach(m=>spot(ctx,m[0]+i*151,m[1]+j*84.5,m[2],m[3]));
})();
(function(){
  const ctx=document.getElementById('gBot').getContext('2d');
  ctx.fillStyle='#0a22f0';ctx.fillRect(0,0,300,168);
  const cs=[[150,42],[150,126],[0,42],[0,126],[300,42],[300,126],[150,-42],[150,210]];
  cs.forEach(c=>{for(let a=0;a<360;a+=11){const r=a*Math.PI/180;spot(ctx,c[0]+62*Math.cos(r),c[1]+30*Math.sin(r),3,0.55);}});
  cs.forEach(c=>{for(let a=5;a<360;a+=22){const r=a*Math.PI/180;spot(ctx,c[0]+56*Math.cos(r),c[1]+24*Math.sin(r),3.2,1);}});
  for(let y=0;y<=168;y+=8)for(let dx=-12;dx<=12;dx+=8){spot(ctx,150+dx+(y%16?4:0),y,1.8,0.55);spot(ctx,dx+(y%16?4:0),y,1.8,0.5);spot(ctx,300+dx,y,1.8,0.5);}
  [[75,10],[75,74],[75,95],[75,158],[225,10],[225,74],[225,95],[225,158]].forEach(p=>{spot(ctx,p[0]-6,p[1],3,1);spot(ctx,p[0]+6,p[1]+4,3,0.9);});
})();

// ================= MOLECULES e/f (decorative) =================
function rings(name,list){
  const g=el('g');
  
  
  list.forEach(r=>{const e=el('ellipse',g);e.setAttribute('cx',r[0]);e.setAttribute('cy',r[1]);e.setAttribute('rx',11);e.setAttribute('ry',9);
    e.setAttribute('transform','rotate('+(r[3]||0)+' '+r[0]+' '+r[1]+')');
    e.setAttribute('fill',r[2]);e.setAttribute('stroke','#c8c8c8');e.setAttribute('stroke-width',2);});
  return g;
}
rings('molecule-e',[
 [800,40,'rgba(150,200,235,0.45)',-20],[830,32,'rgba(150,200,235,0.45)',-20],[865,30,'rgba(110,190,235,0.6)',-20],[895,38,'rgba(120,200,240,0.6)',-20],
 [850,55,'rgba(130,200,240,0.6)',-20],[880,60,'rgba(130,200,240,0.55)',-20],[800,85,'rgba(170,215,240,0.5)',0],[830,80,'rgba(130,190,230,0.7)',0],
 [860,85,'rgba(140,210,240,0.8)',0],[890,88,'rgba(130,200,235,0.7)',0],[830,105,'rgba(180,220,240,0.5)',0],[908,105,'rgba(90,150,200,0.8)',0],[935,103,'rgba(140,190,225,0.7)',0],
 [920,122,'#e06868',30],[955,125,'#ee7070',0],[980,122,'#ee7070',0],[1003,130,'#e85858',30],[1020,145,'#e06060',30],[940,145,'#f07878',0],[965,148,'#f07070',0],[990,150,'#f07878',0],
 [945,170,'#f07070',0],[970,172,'#f07070',0],[995,172,'#f07070',0],[915,188,'#e06a6a',-30],[950,195,'#e88080',0],[985,195,'#c84848',30],[1003,205,'#d85a5a',30]
]);
rings('molecule-f',[
 [795,350,'rgba(160,205,235,0.35)',0],[825,340,'rgba(150,200,235,0.5)',0],[860,335,'rgba(90,170,230,0.6)',0],[895,342,'rgba(240,160,160,0.5)',0],[918,355,'rgba(240,150,150,0.5)',0],
 [830,368,'rgba(130,195,235,0.6)',0],[860,372,'rgba(240,170,170,0.6)',0],[890,375,'rgba(240,170,170,0.6)',0],[810,395,'rgba(150,200,235,0.5)',0],[840,398,'rgba(130,195,235,0.6)',0],
 [875,400,'rgba(245,175,175,0.6)',0],[800,425,'rgba(240,180,180,0.4)',0],[845,425,'rgba(120,185,230,0.7)',0],[880,425,'rgba(245,175,175,0.6)',0],[880,448,'rgba(90,170,230,0.7)',0],[915,455,'rgba(220,100,100,0.7)',30],
 [935,478,'#f07070',0],[960,480,'#5ab8ec',0],[985,470,'#d85858',30],[1022,478,'#2e90cc',0],[930,500,'#c85050',0],[955,503,'#f07070',0],[983,500,'#5ab8ec',0],[1005,510,'#5ab8ec',0],
 [935,525,'#f07070',0],[960,528,'#f07070',0],[985,530,'#5ab8ec',0],[920,545,'#e07070',-30],[955,552,'#5ab0e0',0],[985,555,'#d85a5a',30],[1025,555,'#3aa0dc',0]
]);
(function(){
  const a1=el('path');a1.setAttribute('d','M920,28 Q990,28 1002,98');a1.setAttribute('fill','none');a1.setAttribute('stroke','#9a9a9a');a1.setAttribute('stroke-width',1.6);a1.setAttribute('marker-end','url(#arrG)');
  
  
  const a2=el('path');a2.setAttribute('d','M1005,455 Q1000,348 925,338');a2.setAttribute('fill','none');a2.setAttribute('stroke','#9a9a9a');a2.setAttribute('stroke-width',1.6);a2.setAttribute('marker-end','url(#arrG)');
  
  
  const a3=el('path');a3.setAttribute('d','M980,165 Q965,150 948,160');a3.setAttribute('fill','none');a3.setAttribute('stroke','#111');a3.setAttribute('stroke-width',1.4);a3.setAttribute('marker-end','url(#arrK)');
  
  
  line(958,150,978,172,'#111',1.3);line(960,172,978,152,'#111',1.3);
  const a4=el('path');a4.setAttribute('d','M1000,495 Q975,475 942,490');a4.setAttribute('fill','none');a4.setAttribute('stroke','#111');a4.setAttribute('stroke-width',1.4);a4.setAttribute('marker-end','url(#arrK)');
  
  
})();
</script>
</body></html>
